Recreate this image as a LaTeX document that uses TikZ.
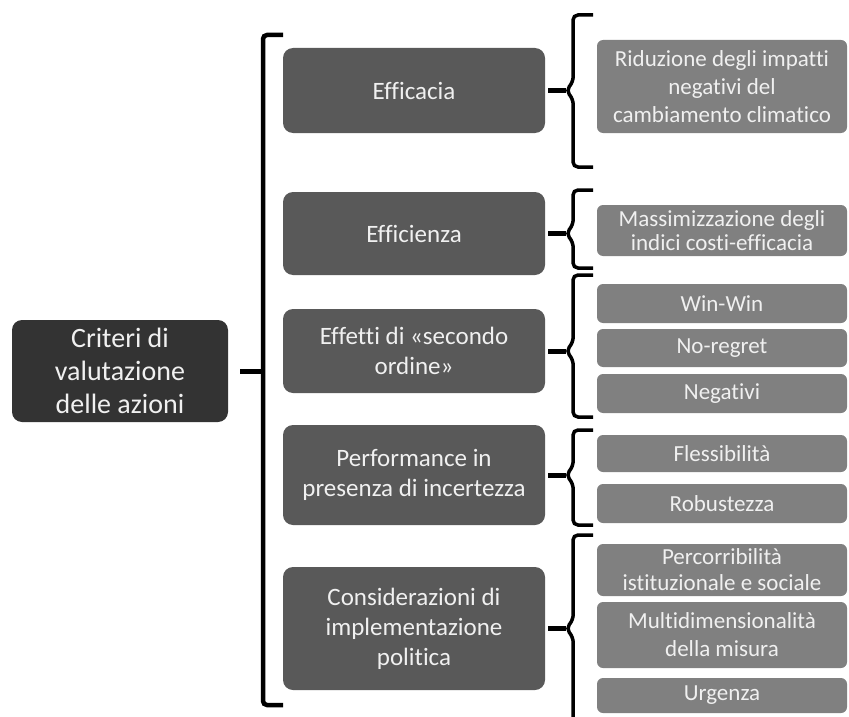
\documentclass[tikz,border=0pt]{standalone}
\usepackage{fontspec}
\setmainfont{Carlito}[Ligatures=NoCommon]
\usepackage{xcolor}
\definecolor{RootGray}{HTML}{333333}
\definecolor{CritGray}{HTML}{595959}
\definecolor{SubGray}{HTML}{808080}
\definecolor{LabelWhite}{HTML}{F0F0F0}
\usetikzlibrary{positioning, calc}

\begin{document}
\begin{tikzpicture}[
  x=1pt, y=-1pt,
  root/.style={fill=RootGray, rounded corners=10pt, text=LabelWhite, align=center,
               minimum width=216pt, minimum height=102pt, inner sep=0pt,
               font=\fontsize{28}{33}\selectfont},
  crit/.style={fill=CritGray, rounded corners=10pt, text=LabelWhite, align=center,
               minimum width=262pt, inner sep=0pt, font=\fontsize{25}{30}\selectfont},
  sub/.style={fill=SubGray, rounded corners=6pt, text=LabelWhite, align=center,
              minimum width=250pt, inner sep=0pt, font=\fontsize{23}{28}\selectfont},
  bigbrk/.style={line width=4.5pt, rounded corners=4pt},
  brk/.style={line width=3.5pt, rounded corners=5pt},
  stub/.style={line width=5pt, shorten <=3pt},
]
  \useasboundingbox (0,0) rectangle (849,717);

  % root
  \node[root] (root) at (120,371) {Criteri di\\valutazione\\delle azioni};

  % criteria
  \node[crit, minimum height=85pt] (effcy) at (414,90.5) {Efficacia};
  \node[crit, minimum height=83pt] (effcz) at (414,233.5) {Efficienza};
  \node[crit, minimum height=84pt] (effet) at (414,351) {Effetti di «secondo\\ordine»};
  \node[crit, minimum height=100pt] (perf) at (414,475) {Performance in\\presenza di incertezza};
  \node[crit, minimum height=123pt] (cons) at (414,628.5) {Considerazioni di\\implementazione\\politica};

  % sub-criteria
  \node[sub, minimum height=93pt] (riduz) at (722,86.5)
    {Riduzione degli impatti\\negativi del\\cambiamento climatico};
  \node[sub, minimum height=51pt, font=\fontsize{23}{24}\selectfont] (massim) at (722,230.5)
    {Massimizzazione degli\\indici costi-efficacia};
  \node[sub, minimum height=39pt] (winwin) at (722,303.5) {Win-Win};
  \node[sub, minimum height=38pt] (noreg) at (722,348) {No-regret};
  \node[sub, minimum height=39pt] (negat) at (722,393.5) {Negativi};
  \node[sub, minimum height=37pt] (fless) at (722,453.5) {Flessibilità};
  \node[sub, minimum height=39pt] (robust) at (722,503.5) {Robustezza};
  \node[sub, minimum height=52pt, font=\fontsize{23}{26}\selectfont] (percor) at (722,570)
    {Percorribilità\\istituzionale e sociale};
  \node[sub, minimum height=66pt] (multid) at (722,635)
    {Multidimensionalità\\della misura};
  \node[sub, minimum height=35pt] (urgen) at (722,695.5) {Urgenza};

  % big bracket
  \draw[bigbrk] (283,35) -- (263,35) -- (263,705) -- (283,705);
  \coordinate (rootbar) at (263,371);
  \draw[stub, shorten <=12pt] (root) -- (rootbar);

  % braces
  \foreach \n/\t/\b in {effcy/15/167, effcz/190/268, effet/275/417, perf/430/525}{
    \coordinate (\n-tip) at ([xshift=21pt]\n.east);
    \draw[brk] (593,\t) -- (573,\t) -- ($(\n-tip)+(7,-9)$) -- (\n-tip)
      -- ($(\n-tip)+(7,9)$) -- (573,\b) -- (593,\b);
    \draw[stub] (\n) -- (\n-tip);
  }
  \coordinate (cons-tip) at ([xshift=21pt]cons.east);
  \draw[brk] (593,535) -- (573,535) -- ($(cons-tip)+(7,-9)$) -- (cons-tip)
    -- ($(cons-tip)+(7,9)$) -- (573,720);
  \draw[stub] (cons) -- (cons-tip);
\end{tikzpicture}
\end{document}
